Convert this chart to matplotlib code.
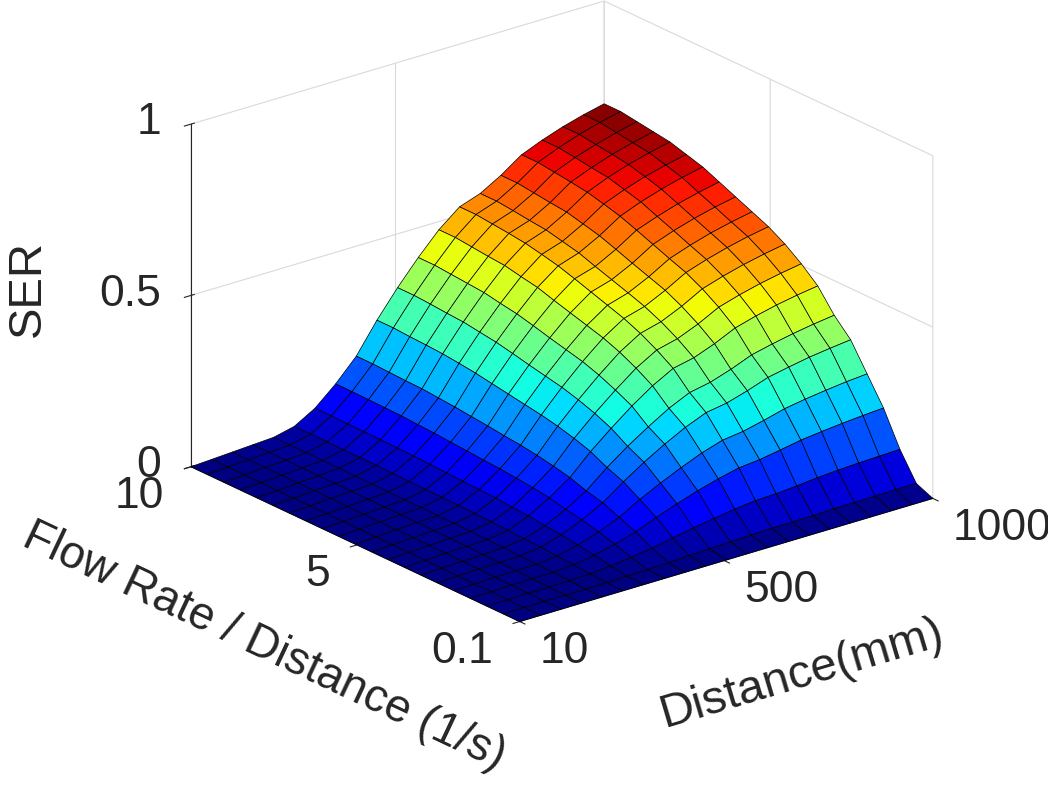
import numpy as np
import matplotlib
matplotlib.use("Agg")
import matplotlib.pyplot as plt

plt.rcParams['font.family'] = ['Liberation Sans', 'DejaVu Sans']

# grid
distance = [10, 59.5, 109, 158.5, 208, 257.5, 307, 356.5, 406, 455.5, 505,
            554.5, 604, 653.5, 703, 752.5, 802, 851.5, 901, 950.5, 1000]
flow_rate = [0.1, 0.595, 1.09, 1.585, 2.08, 2.575, 3.07, 3.565, 4.06, 4.555, 5.05,
             5.545, 6.04, 6.535, 7.03, 7.525, 8.02, 8.515, 9.01, 9.505, 10]

# SER, one row per flow rate value, columns follow distance
ser = [
    [0, 0, 0, 0, 0, 0, 0, 0, 0, 0, 0, 0, 0, 0, 0, 0, 0, 0, 0, 0, 0],
    [0, 0, 0, 0, 0, .001, .002, .003, .005, .008, .010, .012, .014, .016, .016, .017, .019, .019, .020, .021, .021],
    [0, 0, .001, .001, .002, .004, .009, .016, .025, .037, .048, .058, .067, .074, .076, .081, .087, .091, .094, .096, .098],
    [0, .001, .002, .003, .004, .008, .018, .032, .050, .074, .096, .116, .133, .147, .153, .163, .174, .181, .187, .192, .196],
    [0, .001, .003, .004, .005, .011, .025, .045, .070, .104, .134, .161, .186, .205, .213, .227, .243, .253, .261, .268, .273],
    [0, .002, .004, .005, .007, .014, .032, .058, .090, .133, .172, .207, .238, .263, .273, .291, .312, .324, .335, .343, .350],
    [0, .002, .004, .006, .008, .016, .036, .066, .102, .152, .196, .235, .271, .299, .311, .331, .355, .369, .381, .391, .399],
    [0, .002, .005, .007, .009, .018, .042, .077, .118, .176, .226, .273, .314, .347, .360, .383, .411, .428, .442, .453, .462],
    [0, .003, .005, .008, .010, .020, .045, .084, .129, .192, .247, .297, .343, .378, .393, .418, .449, .467, .482, .494, .504],
    [0, .003, .005, .008, .011, .022, .049, .089, .138, .205, .264, .318, .367, .404, .420, .447, .480, .499, .515, .528, .539],
    [0, .003, .006, .009, .011, .023, .051, .094, .145, .215, .278, .335, .386, .425, .442, .471, .505, .525, .542, .556, .567],
    [0, .003, .006, .009, .012, .024, .053, .097, .150, .223, .288, .347, .400, .441, .459, .488, .523, .544, .562, .576, .588],
    [0, .003, .006, .009, .012, .024, .055, .101, .156, .231, .298, .359, .414, .457, .475, .505, .542, .564, .582, .597, .609],
    [0, .003, .006, .009, .013, .025, .057, .104, .161, .239, .309, .372, .428, .473, .491, .523, .561, .583, .602, .617, .630],
    [0, .003, .007, .010, .013, .026, .059, .108, .166, .247, .319, .384, .443, .488, .508, .540, .579, .603, .622, .638, .651],
    [0, .003, .007, .010, .013, .027, .060, .110, .170, .253, .326, .392, .452, .499, .519, .552, .592, .616, .636, .652, .665],
    [0, .003, .007, .010, .014, .027, .061, .113, .174, .258, .333, .401, .462, .509, .530, .564, .604, .629, .649, .665, .679],
    [0, .003, .007, .010, .014, .027, .062, .114, .175, .261, .336, .405, .466, .515, .535, .569, .611, .635, .656, .672, .686],
    [0, .003, .007, .010, .014, .028, .062, .115, .177, .263, .340, .409, .471, .520, .541, .575, .617, .642, .662, .679, .693],
    [0, .0035, .007, .0105, .014, .028, .063, .116, .179, .266, .343, .413, .476, .525, .546, .581, .623, .648, .669, .686, .700],
    [0, .0035, .007, .0105, .014, .028, .063, .116, .179, .266, .343, .413, .476, .525, .546, .581, .623, .648, .669, .686, .700],
]

x_ticks = [10, 500, 1000]
y_ticks = [0.1, 5, 10]
z_ticks = [0, 0.5, 1]

X, Y = np.meshgrid(distance, flow_rate)
Z = np.array(ser)

fig = plt.figure(figsize=(10.48, 7.89), dpi=100)
ax = fig.add_axes([0.026, 0.092, 1, 1], projection='3d', proj_type='ortho')
ax.plot_surface(X, Y, Z, cmap='jet', vmin=0, vmax=Z.max(), edgecolor='black',
                linewidth=0.5, shade=False, rstride=1, cstride=1, antialiased=True)

ax.set_xlim(10, 1000)
ax.set_ylim(0.1, 10)
ax.set_zlim(0, 1)
ax.set_xticks(x_ticks)
ax.set_yticks(y_ticks)
ax.set_zticks(z_ticks)
ax.set_xticklabels(['10', '500', '1000'])
ax.set_yticklabels(['0.1', '5', '10'])
ax.set_zticklabels(['0', '0.5', '1'])

fs = 32
lfs = 34
dark = '#262626'
for axis in (ax.xaxis, ax.yaxis, ax.zaxis):
    axis.set_pane_color((1, 1, 1, 0))
    axis._axinfo['grid']['color'] = (0.85, 0.85, 0.85, 1)
    axis._axinfo['grid']['linewidth'] = 0.8
    axis.line.set_color(dark)
ax.tick_params(labelsize=fs, colors=dark)
ax.xaxis.set_tick_params(pad=10)
ax.yaxis.set_tick_params(pad=11)
ax.zaxis.set_tick_params(pad=4)
for lab in ax.get_xticklabels():
    lab.set_horizontalalignment('left')
    lab.set_verticalalignment('center')
for lab in ax.get_yticklabels():
    lab.set_horizontalalignment('right')
    lab.set_verticalalignment('center')
for lab in ax.get_zticklabels():
    lab.set_horizontalalignment('right')
    lab.set_verticalalignment('center')

ax.set_xlabel('Distance(mm)', fontsize=lfs, color=dark, labelpad=47)
ax.set_ylabel('Flow Rate / Distance (1/s)', fontsize=33, color=dark, labelpad=44)
ax.zaxis.set_rotate_label(False)
ax.set_zlabel('SER', fontsize=lfs, color=dark, labelpad=44, rotation=90)

ax.set_box_aspect((1, 1, 0.7), zoom=1.025)
ax.view_init(elev=22, azim=-128.5)

fig.savefig('out.png', dpi=100)
